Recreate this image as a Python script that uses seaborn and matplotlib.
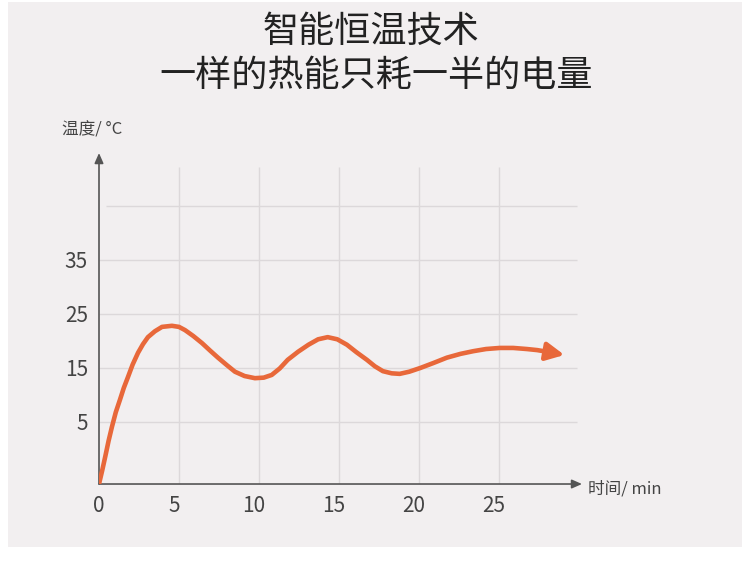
import matplotlib
matplotlib.use('agg')
import matplotlib.pyplot as plt
import matplotlib.transforms as mtransforms
from matplotlib.patches import Rectangle
import seaborn as sns

## data (time in min, temperature in the chart's own scale)
time_min = [0.0, 0.2, 0.4, 0.6, 0.81, 1.05, 1.31, 1.55, 1.81, 2.1, 2.44, 2.75,
            3.06, 3.5, 3.94, 4.56, 5.0, 5.38, 5.9, 6.44, 6.95, 7.44, 8.0, 8.5,
            9.1, 9.75, 10.3, 10.8, 11.3, 11.8, 12.45, 13.1, 13.7, 14.3, 14.9,
            15.5, 16.1, 16.75, 17.25, 17.75, 18.3, 18.8, 19.4, 20.1, 20.9,
            21.75, 22.6, 23.4, 24.2, 25.06, 25.9, 26.75, 27.4, 28.0]
temp_c = [-6.5, -4.0, -1.3, 1.5, 4.1, 6.8, 9.1, 11.3, 13.3, 15.6, 17.8, 19.4,
          20.7, 21.8, 22.6, 22.8, 22.6, 22.0, 20.9, 19.6, 18.2, 16.9, 15.5, 14.3,
          13.5, 13.1, 13.2, 13.7, 14.9, 16.5, 18.0, 19.3, 20.3, 20.7, 20.3,
          19.3, 17.9, 16.5, 15.3, 14.4, 14.0, 13.9, 14.3, 15.0, 15.9,
          16.9, 17.6, 18.1, 18.5, 18.7, 18.7, 18.5, 18.3, 18.0]
arrow_tip = (29.1, 17.4)

x_ticks = [0, 5, 10, 15, 20, 25]
y_ticks = [5, 15, 25, 35]
y_grid = [5, 15, 25, 35, 45]
x_grid = [5, 10, 15, 20, 25]

title_lines = ['智能恒温技术', '一样的热能只耗一半的电量']
x_name = '时间/ min'
y_name = '温度/ °C'

orange = '#e8683a'
bg = '#f2eff0'
grid_c = '#dcd8da'
axis_c = '#555555'

sns.set_theme(style='white')
plt.rcParams['font.family'] = ['Noto Sans CJK SC', 'DejaVu Sans']

fig = plt.figure(figsize=(7.5, 5.63), dpi=100, facecolor='white')
fig.patches.append(Rectangle((0.0107, 0.0284), 0.978, 0.968, transform=fig.transFigure,
                             facecolor=bg, edgecolor='none', zorder=-10))

ax = fig.add_axes([0.132, 0.1403, 0.644, 0.5879])
ax.set_facecolor('none')
xmin, xmax = 0, 30.2
ymin, ymax = -6.5, 54.8
ax.set_xlim(xmin, xmax)
ax.set_ylim(ymin, ymax)

## grid
ax.vlines(x_grid, ymin, 52.2, color=grid_c, lw=1, zorder=0)
for yv in y_grid:
    x0 = 0.44 if yv == 45 else 0
    ax.hlines(yv, x0, 29.9, color=grid_c, lw=1, zorder=0)

## axes with arrow heads
for s in ax.spines.values():
    s.set_visible(False)
ax.annotate('', xy=(0, ymax), xytext=(0, ymin), annotation_clip=False,
            arrowprops=dict(arrowstyle='-|>,head_length=0.5,head_width=0.22', color=axis_c, lw=1.2,
                            shrinkA=0, shrinkB=0))
ax.annotate('', xy=(xmax, ymin), xytext=(0, ymin), annotation_clip=False,
            arrowprops=dict(arrowstyle='-|>,head_length=0.5,head_width=0.22', color=axis_c, lw=1.2,
                            shrinkA=0, shrinkB=0))

## curve
sns.lineplot(x=time_min, y=temp_c, sort=False, ax=ax, color=orange, linewidth=3.3,
             solid_capstyle='round', solid_joinstyle='round', zorder=3)
ax.annotate('', xy=arrow_tip, xytext=(time_min[-1], temp_c[-1]),
            arrowprops=dict(arrowstyle='-|>,head_length=0.9,head_width=0.45', color=orange, lw=3.3,
                            shrinkA=0, shrinkB=0), zorder=4)

## ticks
ax.set_xticks(x_ticks)
ax.set_xticklabels([str(v) for v in x_ticks])
ax.set_yticks(y_ticks)
ax.set_yticklabels([str(v) for v in y_ticks])
ax.tick_params(length=0, labelsize=15, labelcolor='#444444', pad=8)
for lab in ax.get_xticklabels() + ax.get_yticklabels():
    lab.set_fontweight('light')
shift = mtransforms.ScaledTranslation(-5 / 100, 0, fig.dpi_scale_trans)
for lab in ax.get_xticklabels()[1:]:
    lab.set_transform(lab.get_transform() + shift)
ax.set_xlabel('')
ax.set_ylabel('')

## axis names
fig.text(588 / 750, 1 - 489 / 563, x_name, ha='left', va='center', fontsize=12,
         color='#444444', fontweight='light')
fig.text(62 / 750, 1 - 130 / 563, y_name, ha='left', va='center', fontsize=12,
         color='#444444', fontweight='light')

## title
fig.text(0.494, 1 - 32 / 563, title_lines[0], ha='center', va='center', fontsize=26, color='#222222')
fig.text(0.501, 1 - 76 / 563, title_lines[1], ha='center', va='center', fontsize=26, color='#222222')

fig.savefig('out.png', dpi=100, facecolor='white')
